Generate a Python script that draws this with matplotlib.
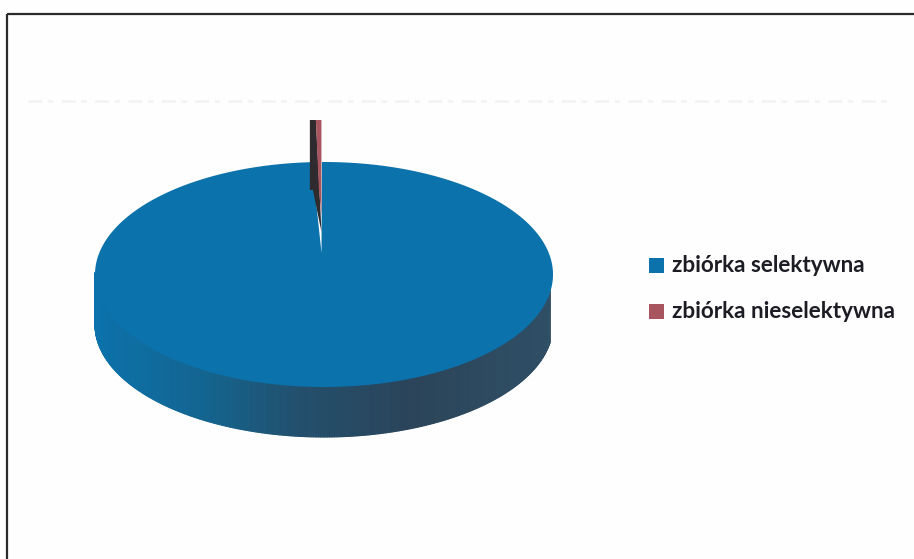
import numpy as np
import matplotlib
matplotlib.use('Agg')
import matplotlib.pyplot as plt
from matplotlib.collections import PolyCollection
from matplotlib.colors import LinearSegmentedColormap
from matplotlib.patches import Polygon, Rectangle

categories = ['zbiórka selektywna', 'zbiórka nieselektywna']
values = [99.3, 0.7]

BLUE = '#0b72ab'
RED = '#a8555f'
DARK = '#2e2a2e'
side_cmap = LinearSegmentedColormap.from_list(
    'side', [(0, BLUE), (0.25, '#14648f'), (0.45, '#234f6c'),
             (0.7, '#2b4459'), (1, '#2f4f66')])

# pie geometry in image pixels, the apex sits above the middle because of the perspective
W, H = 914, 559
CX, CY = 321.5, 253
LEFT, RIGHT, TOP, BOTTOM = 95, 553, 162, 387
DEPTH = 50
START = -0.009

fig = plt.figure(figsize=(W / 100, H / 100), dpi=100)
ax = fig.add_axes([0, 0, 1, 1])
ax.set_xlim(0, W)
ax.set_ylim(H, 0)
ax.axis('off')


def rim(t):
    # t is clockwise from 12 o'clock
    x0, y0 = (LEFT + RIGHT) / 2, (TOP + BOTTOM) / 2
    rx, ry = (RIGHT - LEFT) / 2, (BOTTOM - TOP) / 2
    return x0 + rx * np.sin(t), y0 - ry * np.cos(t)


# frame runs off the bottom and right of the scan, plus the faint title ghost
ax.add_patch(Rectangle((7, 14), 940, 570, fill=False, ec='#2b2b2b', lw=1.6))
ax.plot([28, 890], [101, 101], color='#f3f3f3', lw=2, ls=(0, (5, 2, 2, 3)))

# side wall, one thin strip at a time for the shading
ts = np.linspace(np.pi / 2 + 0.16, 3 * np.pi / 2, 300)
xs, ys = rim(ts)
strips = []
colors = []
for i in range(len(ts) - 1):
    strips.append([(xs[i], ys[i] - 2), (xs[i + 1], ys[i + 1] - 2),
                   (xs[i + 1], ys[i + 1] + DEPTH), (xs[i], ys[i] + DEPTH)])
    colors.append(side_cmap((xs[i] - LEFT) / (RIGHT - LEFT)))
ax.add_collection(PolyCollection(strips, facecolors=colors, edgecolors=colors,
                                 linewidths=0.8, zorder=2))

# top face of the big slice, leaves a gap where the small slice was pulled out
angle = 2 * np.pi * values[1] / sum(values)
ts = np.linspace(START, START + 2 * np.pi - angle, 720)
xs, ys = rim(ts)
ax.add_patch(Polygon([(CX, CY)] + list(zip(xs, ys)), closed=True,
                     fc=BLUE, ec='none', zorder=3))

# small slice, pulled out upwards
x_right, y_right = rim(START)
x_left, y_left = rim(START - angle)
ax.add_patch(Polygon([(x_left - 2, 120), (x_left + 4, 120), (x_right - 2, 200),
                      (CX, 232), (x_left + 1, 190), (x_left - 2, 190)],
                     fc=DARK, ec='none', zorder=5))
ax.add_patch(Polygon([(x_left + 4, 120), (x_right - 0.5, 120), (x_right - 0.5, 190),
                      (CX, 215), (x_right - 3, 190)],
                     fc=RED, ec='none', zorder=5))

# legend
for name, color, y in zip(categories, [BLUE, RED], [265, 311]):
    ax.add_patch(Rectangle((649, y - 7), 15, 15, fc=color, ec='none'))
    ax.text(672, y, name, fontsize=16.2, family='Lato', fontweight='bold',
            color='#1c1c24', va='center', ha='left')

fig.savefig('out.png', dpi=100, facecolor='#fefefe')
